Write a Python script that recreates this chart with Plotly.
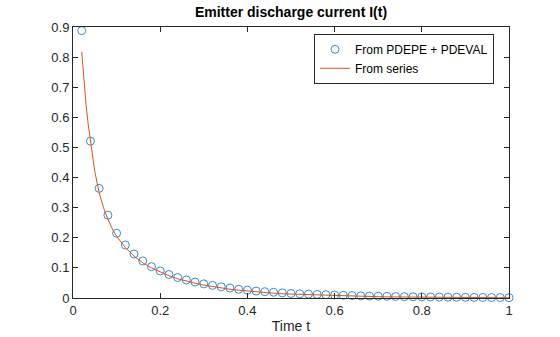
import plotly.graph_objects as go

# PDEPE + PDEVAL samples
t_pde = [0.02, 0.04, 0.06, 0.08, 0.10, 0.12, 0.14, 0.16, 0.18, 0.20,
         0.22, 0.24, 0.26, 0.28, 0.30, 0.32, 0.34, 0.36, 0.38, 0.40,
         0.42, 0.44, 0.46, 0.48, 0.50, 0.52, 0.54, 0.56, 0.58, 0.60,
         0.62, 0.64, 0.66, 0.68, 0.70, 0.72, 0.74, 0.76, 0.78, 0.80,
         0.82, 0.84, 0.86, 0.88, 0.90, 0.92, 0.94, 0.96, 0.98, 1.00]
i_pde = [0.888, 0.521, 0.364, 0.275, 0.215, 0.176, 0.146, 0.123, 0.104, 0.090,
         0.078, 0.068, 0.060, 0.053, 0.047, 0.042, 0.037, 0.033, 0.029, 0.026,
         0.023, 0.021, 0.019, 0.017, 0.015, 0.014, 0.013, 0.012, 0.011, 0.010,
         0.009, 0.008, 0.007, 0.0065, 0.006, 0.0055, 0.005, 0.0045, 0.004, 0.0037,
         0.0034, 0.003, 0.0028, 0.0025, 0.0022, 0.002, 0.0018, 0.0016, 0.0014, 0.0012]

# Series solution
t_ser = [0.02, 0.025, 0.03, 0.035, 0.04, 0.05, 0.06, 0.07, 0.08, 0.09, 0.10,
         0.12, 0.14, 0.16, 0.18, 0.20, 0.22, 0.24, 0.26, 0.28, 0.30,
         0.32, 0.34, 0.36, 0.38, 0.40, 0.42, 0.44, 0.46, 0.48, 0.50,
         0.52, 0.54, 0.56, 0.58, 0.60, 0.62, 0.64, 0.66, 0.68, 0.70,
         0.72, 0.74, 0.76, 0.78, 0.80, 0.82, 0.84, 0.86, 0.88, 0.90,
         0.92, 0.94, 0.96, 0.98, 1.00]
i_ser = [0.818, 0.72, 0.64, 0.575, 0.52, 0.42, 0.35, 0.30, 0.262, 0.23, 0.205,
         0.168, 0.139, 0.117, 0.100, 0.086, 0.074, 0.064, 0.056, 0.049, 0.043,
         0.038, 0.033, 0.029, 0.026, 0.023, 0.020, 0.018, 0.016, 0.014, 0.013,
         0.012, 0.011, 0.0095, 0.0085, 0.0075, 0.0068, 0.006, 0.0054, 0.0048, 0.0043,
         0.0038, 0.0034, 0.003, 0.0027, 0.0024, 0.0021, 0.0019, 0.0017, 0.0015, 0.0013,
         0.0012, 0.001, 0.0009, 0.0008, 0.0007]

x_ticks = [0, 0.2, 0.4, 0.6, 0.8, 1]
x_labels = ["0", "0.2", "0.4", "0.6", "0.8", "1"]
y_ticks = [0, 0.1, 0.2, 0.3, 0.4, 0.5, 0.6, 0.7, 0.8, 0.9]
y_labels = ["0", "0.1", "0.2", "0.3", "0.4", "0.5", "0.6", "0.7", "0.8", "0.9"]

FONT = "Liberation Sans, Arial, Helvetica, sans-serif"
AX = "#262626"

fig = go.Figure()
fig.add_trace(go.Scatter(
    x=t_pde, y=i_pde, mode="markers", name="From PDEPE + PDEVAL",
    cliponaxis=False,
    marker=dict(symbol="circle-open", size=8, color="#3a8ad0",
                line=dict(width=1, color="#3a8ad0")),
))
fig.add_trace(go.Scatter(
    x=t_ser, y=i_ser, mode="lines", name="From series",
    line=dict(color="#D95319", width=1),
))

axis_common = dict(
    showgrid=False, zeroline=False, showline=True, linecolor=AX, linewidth=1,
    mirror="ticks", ticks="inside", ticklen=5, tickwidth=1, tickcolor=AX,
    tickfont=dict(family=FONT, size=13, color=AX),
)
fig.update_xaxes(range=[0, 1], tickvals=x_ticks, ticktext=x_labels,
                 title=dict(text="Time t", font=dict(family=FONT, size=14, color=AX),
                            standoff=4),
                 **axis_common)
fig.update_yaxes(range=[0, 0.9], tickvals=y_ticks, ticktext=y_labels, **axis_common)

fig.update_layout(
    width=560, height=337,
    margin=dict(l=73, r=51, t=27, b=39, autoexpand=False),
    paper_bgcolor="white", plot_bgcolor="white",
    title=dict(text="<b>Emitter discharge current I(t)</b>", x=291/560, xanchor="center",
               y=1 - 12.5/337, yanchor="middle", yref="container",
               font=dict(family=FONT, size=14, color="#000000")),
    showlegend=True,
    legend=dict(x=0.9656, xanchor="right", y=0.975, yanchor="top",
                bgcolor="white", bordercolor=AX, borderwidth=1,
                font=dict(family=FONT, size=12, color="#000000"),
                tracegroupgap=0, itemwidth=30),
)

fig.write_html("out.html")
